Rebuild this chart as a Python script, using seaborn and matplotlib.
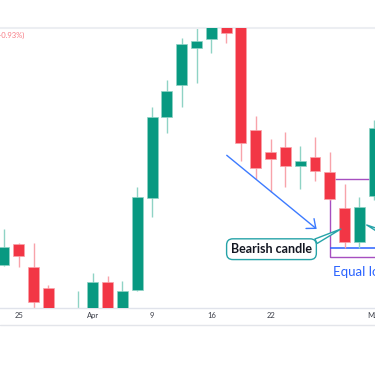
import numpy as np
import matplotlib
matplotlib.use('Agg')
import matplotlib.pyplot as plt
import seaborn as sns
from matplotlib.patches import Rectangle
from matplotlib.lines import Line2D

# daily candles (price units are arbitrary, read from pixel heights)
opens = [135.3, 155.7, 132.7, 112.0, 86.0, 78.0, 86.0, 117.7, 88.0, 110.3,
         201.7, 282.7, 314.7, 351.7, 361.3, 383.0, 380.0, 270.0, 247.7, 253.3,
         234.0, 242.7, 227.7, 192.3, 157.7, 204.0]
closes = [152.7, 143.7, 98.0, 80.0, 72.0, 90.0, 118.3, 84.0, 109.0, 202.7,
          283.3, 309.0, 356.3, 359.3, 382.0, 367.3, 257.3, 232.0, 241.3, 234.0,
          239.3, 229.0, 200.7, 157.7, 193.3, 271.7]
highs = [171.0, 157.3, 156.7, 115.0, 90.0, 109.0, 126.7, 124.0, 118.7, 213.3,
         293.3, 320.0, 362.3, 378.0, 388.0, 390.0, 392.0, 284.0, 260.7, 268.0,
         254.3, 263.3, 247.7, 216.0, 202.7, 280.0]
lows = [134.0, 132.7, 88.0, 74.0, 66.0, 74.0, 82.0, 80.0, 84.0, 109.0,
        183.3, 267.3, 293.3, 316.7, 347.3, 357.3, 238.7, 221.0, 208.3, 212.7,
        210.7, 219.3, 200.0, 151.7, 151.7, 200.0]

tick_idx = [1, 6, 10, 14, 18, 25]
tick_labels = ['25', 'Apr', '9', '16', '22', 'May']

GREEN = '#089981'
RED = '#f23645'
GREEN_WICK = '#8fd3c5'
RED_WICK = '#f8a3aa'
TEAL = '#26a3a8'
BLUE = '#2962ff'
PURPLE = '#a64fc0'

sns.set_theme(style='white')
plt.rcParams['font.family'] = ['Lato', 'DejaVu Sans']

fig = plt.figure(figsize=(3.75, 3.66), dpi=100)
ax = fig.add_axes([0, 58 / 366, 1, 280 / 366])

x = np.arange(len(opens))
o = np.array(opens)
c = np.array(closes)
up = c >= o
body_col = np.where(up, GREEN, RED)
wick_col = np.where(up, GREEN_WICK, RED_WICK)

# pattern box and equal-low line behind the candles
ax.add_patch(Rectangle((22, 143.3), 6, 77.4, fill=False, ec=PURPLE, lw=1.0, zorder=1))
ax.hlines(lows[23], 22, 28, color=BLUE, lw=1.1, zorder=1.5)

ax.vlines(x, lows, highs, colors=wick_col, lw=1.0, zorder=2)
ax.bar(x, np.abs(c - o), bottom=np.minimum(o, c), width=0.74,
       color=body_col, edgecolor=wick_col, linewidth=0.5, zorder=3)

ax.set_xlim(-0.27, 25.05)
ax.set_ylim(92, 372)

ax.set_xticks(tick_idx)
ax.set_xticklabels(tick_labels)
ax.set_yticks([])
ax.tick_params(axis='x', length=0, pad=3, labelsize=5.5, labelcolor='#3b3e48')
for s in ['left', 'right']:
    ax.spines[s].set_visible(False)
ax.spines['top'].set_color('#eceef2')
ax.spines['top'].set_linewidth(1.5)
ax.spines['bottom'].set_color('#e0e3eb')
ax.spines['bottom'].set_linewidth(1.0)

fig.add_artist(Line2D([0, 1], [41 / 366, 41 / 366], color='#e3e5ea', lw=1.0))

# annotations
ax.annotate('', xy=(21.11, 171), xytext=(15.04, 244.7),
            arrowprops=dict(arrowstyle='->,head_length=0.45,head_width=0.38',
                            color='#3d7bff', lw=1.0, shrinkA=0, shrinkB=0))

ax.annotate('Bearish candle', xy=(22.75, 171), xytext=(18.06, 150.8),
            ha='center', va='center', fontsize=9, fontweight='bold', color='#131722',
            bbox=dict(boxstyle='round,pad=0.35,rounding_size=0.5', fc='white', ec=TEAL, lw=1.0),
            arrowprops=dict(arrowstyle='wedge,tail_width=0.4', fc='white', ec=TEAL, lw=1.0,
                            relpos=(0.97, 0.9), shrinkA=0, shrinkB=0),
            zorder=6)

ax.annotate('', xy=(24.49, 175), xytext=(26.2, 163),
            arrowprops=dict(arrowstyle='wedge,tail_width=0.4', fc='white', ec=TEAL, lw=1.0,
                            shrinkA=0, shrinkB=0), zorder=6)

ax.text(22.19, 128.5, 'Equal lows', ha='left', va='center', fontsize=9.5, color=BLUE,
        clip_on=False, zorder=6)

fig.text(24 / 375, 1 - 35.7 / 366, '1.0000 (\u22120.93%)', ha='right', va='center',
         fontsize=5.5, color='#f77c84')

fig.savefig('out.png', dpi=100)
